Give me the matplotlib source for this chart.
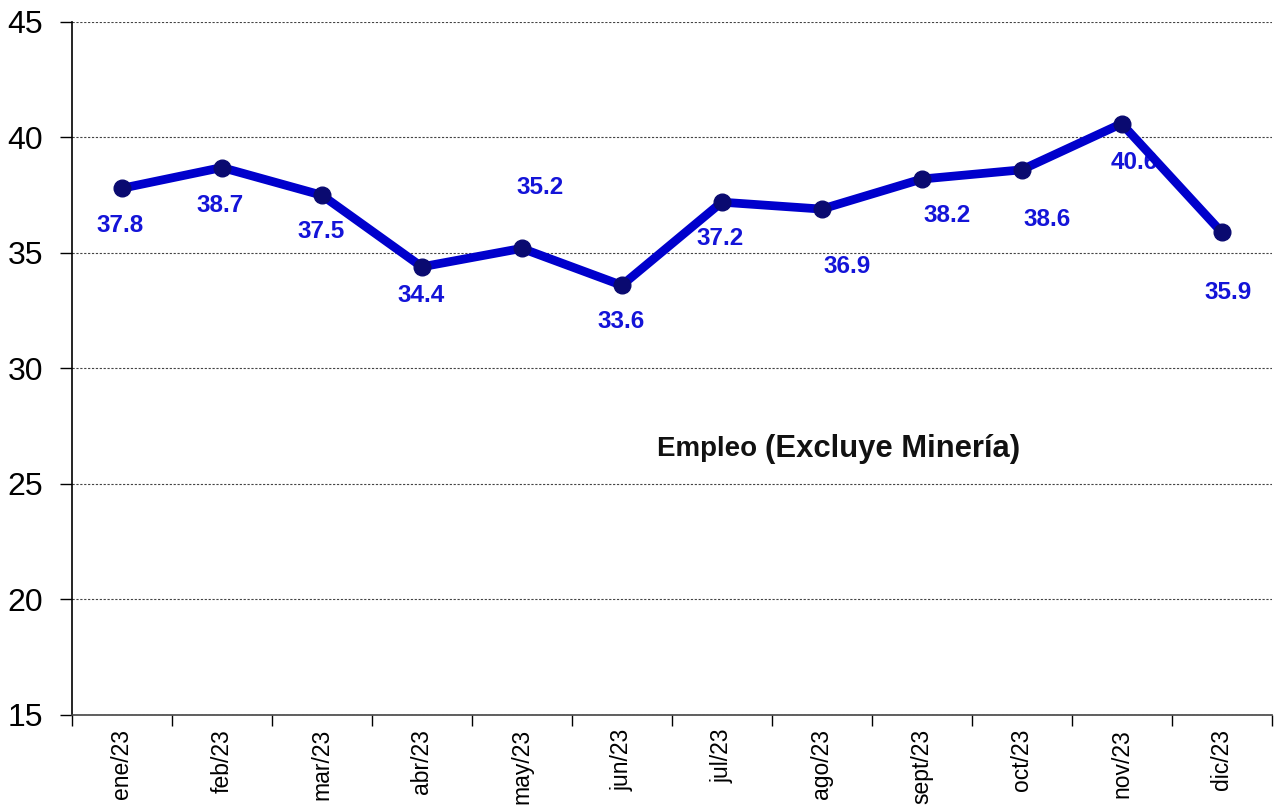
import numpy as np
import matplotlib.pyplot as plt

plt.rcParams['font.family'] = ['Liberation Sans', 'DejaVu Sans']

meses = ['ene/23', 'feb/23', 'mar/23', 'abr/23', 'may/23', 'jun/23',
         'jul/23', 'ago/23', 'sept/23', 'oct/23', 'nov/23', 'dic/23']
empleo = [37.8, 38.7, 37.5, 34.4, 35.2, 33.6, 37.2, 36.9, 38.2, 38.6, 40.6, 35.9]

# label offsets in pixels (dx, dy) relative to each point
offsets = [(-2, -37), (-2, -38), (-1, -36), (-1, -29), (18, 61), (-1, -36),
           (-2, -36), (25, -57), (25, -36), (25, -50), (13, -39), (6, -60)]

fig = plt.figure(figsize=(12.78, 8.11), dpi=100)
ax = fig.add_axes([0.0563, 0.1184, 0.9387, 0.8545])

x = np.arange(len(meses))
ax.plot(x, empleo, color='#0000cc', lw=6.3, solid_joinstyle='round', zorder=3,
        marker='o', markersize=12, markerfacecolor='#0a0a70', markeredgecolor='#0a0a70')

for xi, yi, (dx, dy) in zip(x, empleo, offsets):
    ax.annotate(f'{yi:.1f}', (xi, yi), xytext=(dx * 0.72, dy * 0.72), textcoords='offset points',
                ha='center', va='center', color='#1414d8', fontsize=17.5, fontweight='bold', zorder=2)

# title inside the plot, two sizes like the original
ax.annotate('Empleo ', (7.13, 26.5), xytext=(-50, 0), textcoords='offset points',
            ha='right', va='center', fontsize=20, fontweight='bold', color='#111111')
ax.annotate('(Excluye Minería)', (7.13, 26.5), xytext=(-50, 0), textcoords='offset points',
            ha='left', va='center', fontsize=22.3, fontweight='bold', color='#111111')

ax.set_xlim(-0.5, len(meses) - 0.5)
ax.set_ylim(15, 45)
ax.set_yticks(np.arange(15, 46, 5))
ax.tick_params(axis='y', labelsize=23, length=9, width=1, direction='out', pad=12)
ax.grid(axis='y', linestyle=(0, (2, 1.5)), color='#444444', lw=0.8)

ax.set_xticks(np.arange(-0.5, len(meses), 1))
ax.set_xticklabels([])
ax.set_xticks(x, minor=True)
ax.set_xticklabels(meses, minor=True, rotation=90, fontsize=16.5)
ax.tick_params(axis='x', which='major', length=8, width=1, direction='out')
ax.tick_params(axis='x', which='minor', length=0, pad=10)

for s in ['top', 'right']:
    ax.spines[s].set_visible(False)
ax.spines['left'].set_linewidth(1.2)
ax.spines['bottom'].set_linewidth(1.2)
ax.spines['bottom'].set_color('#444444')
ax.set_axisbelow(True)

plt.savefig('out.png', dpi=100)
